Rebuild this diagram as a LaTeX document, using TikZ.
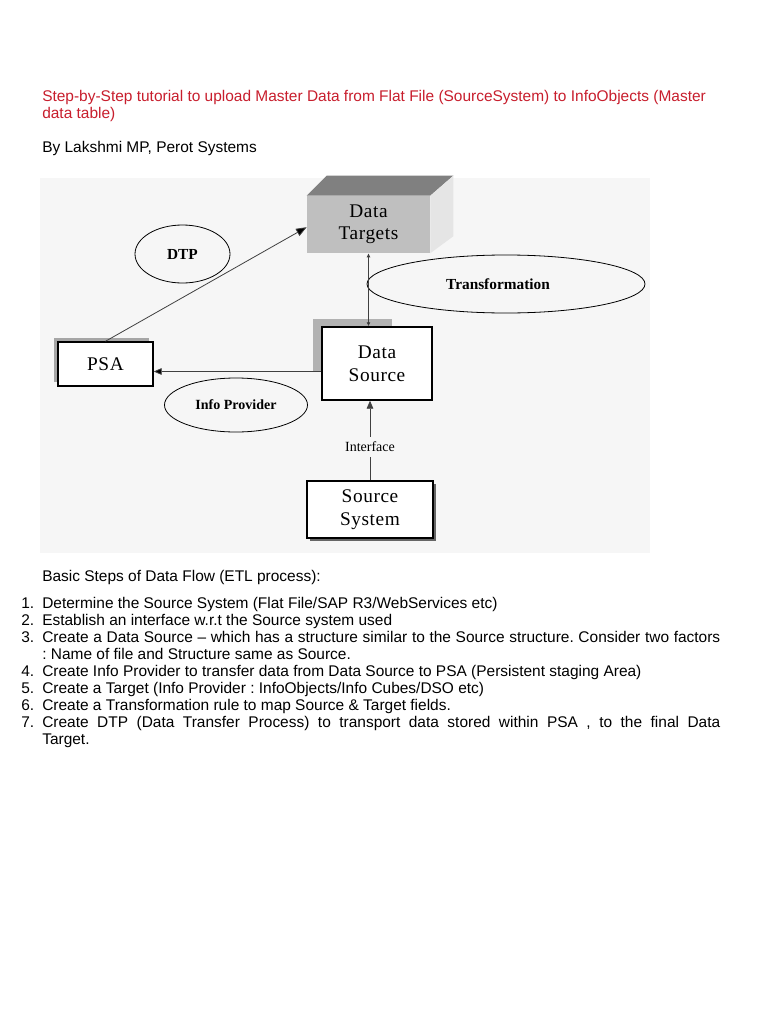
\documentclass[tikz,border=0pt]{standalone}
\usepackage{fontspec}
\setmainfont{Liberation Sans}
\newfontfamily\diagfont[LetterSpace=3]{Liberation Serif}
\newfontfamily\labelfont{Liberation Serif}
\usepackage{tikz}
\usetikzlibrary{arrows.meta,shapes.geometric,shadows,calc}
\definecolor{titlered}{RGB}{200,30,45}
\definecolor{bggray}{RGB}{246,246,246}
\frenchspacing

\begin{document}
\begin{tikzpicture}[x=0.75pt,y=-0.75pt,
>={Triangle[length=6pt,width=5pt]},
box/.style={rectangle,draw,line width=1.1pt,fill=white,align=center,inner sep=0pt,
  font=\diagfont\fontsize{14.5}{17}\selectfont},
oval/.style={ellipse,draw,line width=0.6pt,inner sep=0pt,
  font=\labelfont\bfseries\fontsize{10.5}{12}\selectfont},
conn/.style={line width=0.6pt,draw=black!75},
txt/.style={anchor=base west,inner sep=0pt,font=\fontsize{11.6}{12.75}\selectfont}]

\useasboundingbox (0,0) rectangle (768,1024);
\fill[white] (0,0) rectangle (768,1024);

% heading
\node[txt,text=titlered] (t1) at (42,101) {Step-by-Step tutorial to upload Master Data from Flat File (SourceSystem) to InfoObjects (Master};
\node[txt,text=titlered] (t2) at (42,118) {data table)};
\node[txt] (by) at (42,152) {By Lakshmi MP, Perot Systems};

% diagram
\fill[bggray] (40,178) rectangle (650,553);
\fill[black!30] (313,319) rectangle (392,371);

\node (dt) at (368.5,224.5) [rectangle,fill=black!25,minimum width=92.25pt,minimum height=42.75pt,
  align=center,inner sep=0pt,font=\diagfont\fontsize{14.5}{16.5}\selectfont] {Data\\Targets};
\fill[black!50] (dt.north west) -- ([shift={(20,-20)}]dt.north west)
  -- ([shift={(23,-20)}]dt.north east) -- (dt.north east) -- cycle;
\fill[black!10] (dt.north east) -- ([shift={(23,-20)}]dt.north east)
  -- ([shift={(23,-17)}]dt.south east) -- (dt.south east) -- cycle;

\node (psa) at (105.5,364) [box,minimum width=71.25pt,minimum height=33pt,
  drop shadow={shadow xshift=-3pt,shadow yshift=3pt,fill=black!35,opacity=1}] {PSA};
\node (ds) at (377,363.5) [box,minimum width=82.5pt,minimum height=54.75pt] {Data\\Source};
\node (ss) at (370,509.5) [box,minimum width=94.5pt,minimum height=42.75pt,
  drop shadow={shadow xshift=2pt,shadow yshift=-2pt,fill=black!60,opacity=1}] {Source\\System};

\node (tr) at (506,284) [oval,minimum width=208.5pt,minimum height=43.5pt,
  font=\labelfont\bfseries\fontsize{11.5}{12}\selectfont] {Transformation\hspace*{12pt}};
\node (dtp) at (182.5,254) [oval,minimum width=71.25pt,minimum height=43.5pt,
  font=\labelfont\bfseries\fontsize{11.5}{12}\selectfont] {DTP};
\node (ip) at (236,405) [oval,minimum width=107.25pt,minimum height=40.5pt] {Info Provider};

\draw[conn] (psa.north) edge[-{Triangle[length=8pt,width=6pt]}] ([yshift=-2pt]dt.west);
\draw[conn] ([yshift=-6pt]ds.west) edge[->] ([yshift=-6pt]ds.west -| psa.east);
\draw[conn] (dt.south) edge[{Latex[length=3pt,width=3pt]}-{Latex[length=3pt,width=3pt]}] (dt.south |- ds.north);
\draw[conn,->] (ss.north) -- node[pos=0.42,fill=bggray,inner xsep=1pt,inner ysep=4pt,
  font=\labelfont\fontsize{10.5}{12}\selectfont] {Interface} (ss.north |- ds.south);

% steps
\node[txt] (basic) at (42,581) {Basic Steps of Data Flow (ETL process):};
\node[txt] (n1) at (21,608) {1.};
\node[txt] (s1) at (42,608) {Determine the Source System (Flat File/SAP R3/WebServices etc)};
\node[txt] (n2) at (21,625) {2.};
\node[txt] (s2) at (42,625) {Establish an interface w.r.t the Source system used};
\node[txt] (n3) at (21,642) {3.};
\node[txt] (s3) at (42,642) {\makebox[508.5pt][s]{Create a Data Source – which has a structure similar to the Source structure. Consider two factors}};
\node[txt] (s3b) at (42,659) {: Name of file and Structure same as Source.};
\node[txt] (n4) at (21,676) {4.};
\node[txt] (s4) at (42,676) {Create Info Provider to transfer data from Data Source to PSA (Persistent staging Area)};
\node[txt] (n5) at (21,693) {5.};
\node[txt] (s5) at (42,693) {Create a Target (Info Provider : InfoObjects/Info Cubes/DSO etc)};
\node[txt] (n6) at (21,710) {6.};
\node[txt] (s6) at (42,710) {Create a Transformation rule to map Source \& Target fields.};
\node[txt] (n7) at (21,727) {7.};
\node[txt] (s7) at (42,727) {\makebox[508.5pt][s]{Create DTP (Data Transfer Process) to transport data stored within PSA , to the final Data}};
\node[txt] (s7b) at (42,744) {Target.};

\end{tikzpicture}
\end{document}
